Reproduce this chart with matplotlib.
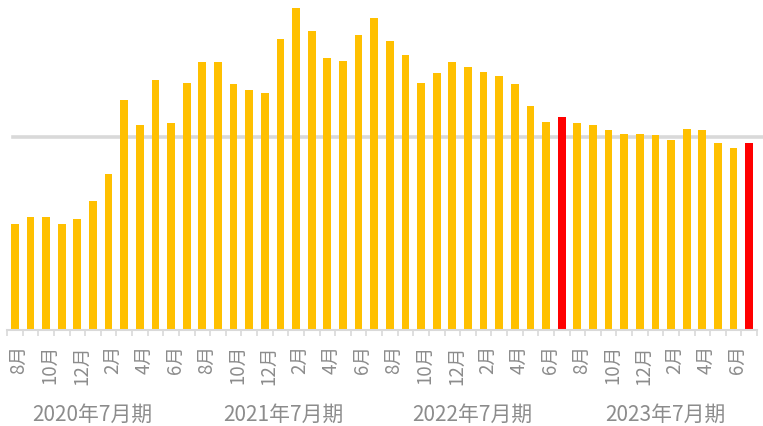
import matplotlib
matplotlib.use("Agg")
import matplotlib.pyplot as plt
import matplotlib.transforms as mtransforms
from matplotlib.lines import Line2D

plt.rcParams['font.family'] = ['Noto Sans CJK JP', 'DejaVu Sans']

months = ['8月', '9月', '10月', '11月', '12月', '1月', '2月', '3月', '4月', '5月', '6月', '7月'] * 4
values = [54.9, 58.5, 58.7, 54.9, 57.5, 67.0, 81.0, 119.2, 106.2, 129.5, 107.3, 128.0,
          138.7, 138.7, 127.3, 124.5, 122.8, 150.6, 166.7, 154.8, 141.1, 139.4, 152.8, 161.8,
          149.6, 142.6, 128.0, 133.2, 139.0, 136.1, 133.8, 131.6, 127.6, 115.9, 107.8, 110.2,
          107.3, 106.1, 103.6, 101.7, 101.6, 101.2, 98.6, 104.1, 103.6, 97.0, 94.3, 96.9]
highlight = [35, 47]
periods = ['2020年7月期', '2021年7月期', '2022年7月期', '2023年7月期']
reference_level = 100

W, H = 763, 427
fig = plt.figure(figsize=(W / 100, H / 100), dpi=100)
ax = fig.add_axes([7 / W, (H - 331) / H, 750 / W, 331 / H])

n = len(values)
x = list(range(n))
colors = ['#FF0000' if i in highlight else '#FFC000' for i in x]
ax.bar(x, values, width=0.5, color=colors, zorder=2)

ax.set_xlim(-0.5, n - 0.5)
ax.set_ylim(0, 171.5)

# reference line
ax.add_line(Line2D([-0.12, n + 0.4], [reference_level, reference_level],
                   color='#d9d9d9', lw=2.6, zorder=1, clip_on=False))

for s in ['top', 'right', 'left']:
    ax.spines[s].set_visible(False)
ax.spines['bottom'].set_color('#d9d9d9')
ax.spines['bottom'].set_linewidth(1.5)
ax.set_yticks([])

major = [i for i in x if i % 2 == 0]
ax.set_xticks(major)
ax.set_xticklabels([months[i] for i in major], rotation=90, va='top', ha='center',
                   fontsize=13.5, color='#8c8c8c')
ax.set_xticks([i - 0.5 for i in range(n + 1)], minor=True)
ax.tick_params(axis='x', which='major', length=0, pad=10)
ax.tick_params(axis='x', which='minor', length=4.5, width=1.2, color='#d9d9d9')

offset = mtransforms.ScaledTranslation(4 / 100, 0, fig.dpi_scale_trans)
for lbl in ax.get_xticklabels():
    lbl.set_transform(lbl.get_transform() + offset)

period_pos = [4.94, 17.16, 29.26, 41.61]
trans = mtransforms.blended_transform_factory(ax.transData, fig.transFigure)
for p, lab in zip(period_pos, periods):
    ax.text(p, (H - 415) / H, lab, transform=trans,
            ha='center', va='center', fontsize=15, color='#8c8c8c')

fig.savefig('out.png', dpi=100)
